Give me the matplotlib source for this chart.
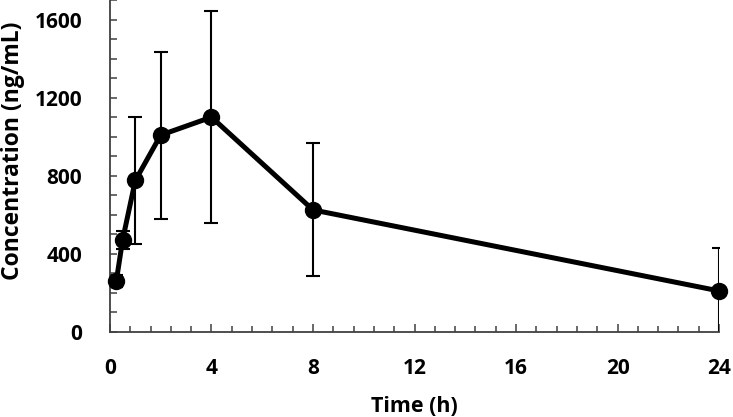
import matplotlib.pyplot as plt
from matplotlib.ticker import MultipleLocator

# Dados
time_h = [0.25, 0.5, 1, 2, 4, 8, 24]
conc = [260, 472, 776, 1008, 1100, 625, 210]
conc_sd = [30, 45, 325, 428, 543, 341, 220]

plt.rcParams['font.family'] = ['Open Sans', 'DejaVu Sans']
plt.rcParams['font.weight'] = 'bold'

fig = plt.figure(figsize=(7.33, 4.17), dpi=100)
ax = fig.add_axes([0.150, 0.204, 0.831, 0.796])

ax.errorbar(time_h, conc, yerr=conc_sd, fmt='none', ecolor='black',
            elinewidth=1.5, capsize=5.2, capthick=1.5, zorder=2)
ax.plot(time_h, conc, color='black', linewidth=3.6, marker='o',
        markersize=11.5, zorder=3, clip_on=False)

ax.set_xlim(0, 24)
ax.set_ylim(0, 1700)
ax.xaxis.set_major_locator(MultipleLocator(4))
ax.xaxis.set_minor_locator(MultipleLocator(0.8))
ax.yaxis.set_major_locator(MultipleLocator(400))
ax.yaxis.set_minor_locator(MultipleLocator(100))

for s in ['top', 'right']:
    ax.spines[s].set_visible(False)
for s in ['left', 'bottom']:
    ax.spines[s].set_color('#404040')
    ax.spines[s].set_linewidth(1.3)

ax.tick_params(axis='both', which='both', direction='in', color='#404040', width=1.1)
ax.tick_params(axis='x', which='major', length=5.5, pad=19, labelsize=15)
ax.tick_params(axis='x', which='minor', length=4)
ax.tick_params(axis='y', which='major', length=5, pad=20, labelsize=15)
ax.tick_params(axis='y', which='minor', length=5)

ax.set_xlabel("Time (h)", fontsize=15.5, fontweight='bold', labelpad=12)
ax.set_ylabel("Concentration (ng/mL)", fontsize=16.5, fontweight='bold')
ax.yaxis.set_label_coords(-0.140, 0.545)

fig.savefig("out.png", dpi=100)
